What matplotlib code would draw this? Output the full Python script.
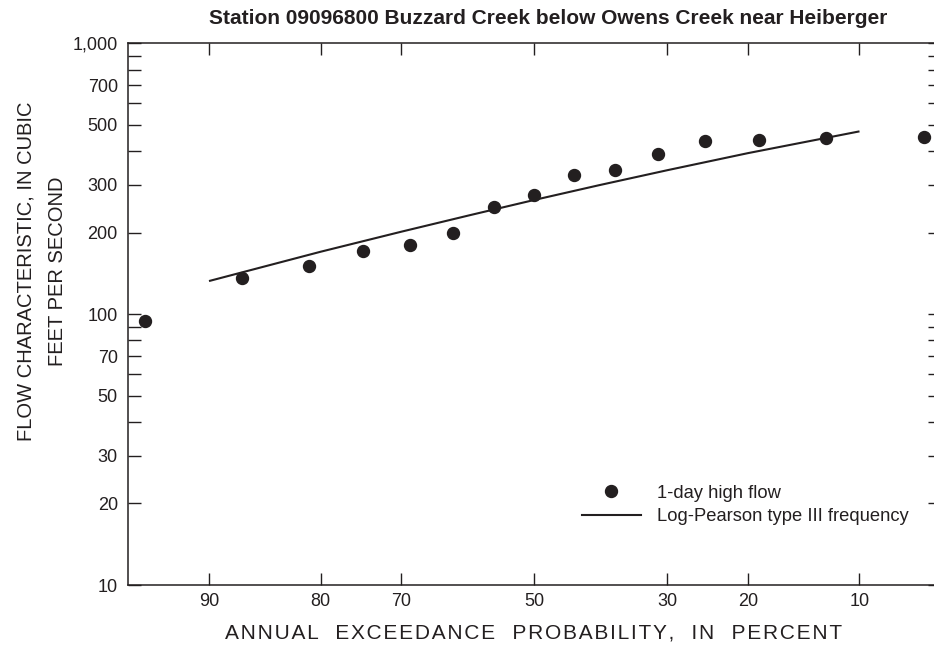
import numpy as np
import matplotlib
matplotlib.use("Agg")
import matplotlib.pyplot as plt
from matplotlib.lines import Line2D
from statistics import NormalDist

plt.rcParams['font.family'] = ['Liberation Sans', 'DejaVu Sans']

# ---- data ----
title = "Station 09096800 Buzzard Creek below Owens Creek near Heiberger"
exceed_prob = [93.75, 87.5, 81.25, 75.0, 68.75, 62.5, 56.25, 50.0,
               43.75, 37.5, 31.25, 25.0, 18.75, 12.5, 6.25]
flow_1day = [94.5, 136, 151, 171, 180, 200, 249, 275,
             327, 342, 389, 435, 440, 447, 450]
lp3_prob = [90, 80, 70, 60, 50, 40, 30, 20, 10]
lp3_flow = [132.5, 170, 201.5, 232, 264, 299, 340, 393, 473]
x_ticks = [90, 80, 70, 50, 30, 20, 10]
y_ticks = [10, 20, 30, 40, 50, 60, 70, 80, 90, 100, 200, 300, 400, 500,
           600, 700, 800, 900, 1000]
y_labels = {10: "10", 20: "20", 30: "30", 50: "50", 70: "70", 100: "100",
            200: "200", 300: "300", 500: "500", 700: "700", 1000: "1,000"}
xlabel_words = ["ANNUAL", "EXCEEDANCE", "PROBABILITY,", "IN", "PERCENT"]

INK = "#231f20"
_nd = NormalDist()


def _fwd(p):
    p = np.clip(np.asarray(p, dtype=float), 1e-4, 100 - 1e-4)
    return np.vectorize(_nd.inv_cdf, otypes=[float])(p / 100.0)


def _inv(z):
    return np.vectorize(_nd.cdf, otypes=[float])(np.asarray(z, dtype=float)) * 100.0


W, H = 934, 651
fig = plt.figure(figsize=(W / 100, H / 100), dpi=100)
left_px, right_px, top_px, bot_px = 127.5, 941, 43.3, 585
ax = fig.add_axes([left_px / W, (H - bot_px) / H,
                   (right_px - left_px) / W, (bot_px - top_px) / H])

ax.set_xscale('function', functions=(_fwd, _inv))
ax.set_yscale('log')
ax.set_xlim(94.55, 5.45)
ax.set_ylim(10, 1000)

ax.plot(lp3_prob, lp3_flow, color=INK, lw=1.5, solid_capstyle='butt')
ax.plot(exceed_prob, flow_1day, 'o', color=INK, ms=8.6, mec=INK)

ax.set_xticks(x_ticks)
ax.set_xticklabels([str(t) for t in x_ticks])
ax.xaxis.set_minor_locator(matplotlib.ticker.NullLocator())
ax.set_yticks(y_ticks)
ax.set_yticklabels([y_labels.get(t, "") for t in y_ticks])
ax.yaxis.set_minor_locator(matplotlib.ticker.NullLocator())

ax.tick_params(axis='x', which='major', direction='in', length=8.8, width=1.0,
               color=INK, labelcolor=INK, labelsize=13, pad=6,
               top=True, bottom=True)
ax.tick_params(axis='y', which='major', direction='in', length=9.4, width=1.0,
               color=INK, labelcolor=INK, labelsize=13, pad=7,
               left=True, right=True)

for s in ax.spines.values():
    s.set_color(INK)
    s.set_linewidth(1.1)
ax.spines['right'].set_visible(False)

# axis labels
xlabel = "   ".join("\u200a".join(w) for w in xlabel_words)
fig.text(534 / W, 1 - 633 / H, xlabel,
         ha='center', va='center', fontsize=15, color=INK)
fig.text(42 / W, 1 - 271 / H, "FLOW CHARACTERISTIC, IN CUBIC\nFEET PER SECOND",
         ha='center', va='center', rotation=90, fontsize=14.5, color=INK,
         multialignment='center', linespacing=1.8)
fig.text(548 / W, 1 - 18 / H, title, ha='center', va='center',
         fontsize=15, fontweight='bold', color=INK)

handles = [Line2D([], [], ls='none', marker='o', ms=8.6, color=INK),
           Line2D([], [], color=INK, lw=1.5)]
leg = ax.legend(handles, ["1-day high flow", "Log-Pearson type III frequency"],
                loc='upper left', bbox_to_anchor=((582 - left_px) / (right_px - left_px),
                                                  (bot_px - 484.5) / (bot_px - top_px)),
                frameon=False, fontsize=13.2, handlelength=3.2, handletextpad=0.9,
                labelspacing=0.35, borderpad=0, borderaxespad=0)
for t in leg.get_texts():
    t.set_color(INK)

fig.savefig("out.png", dpi=100)
